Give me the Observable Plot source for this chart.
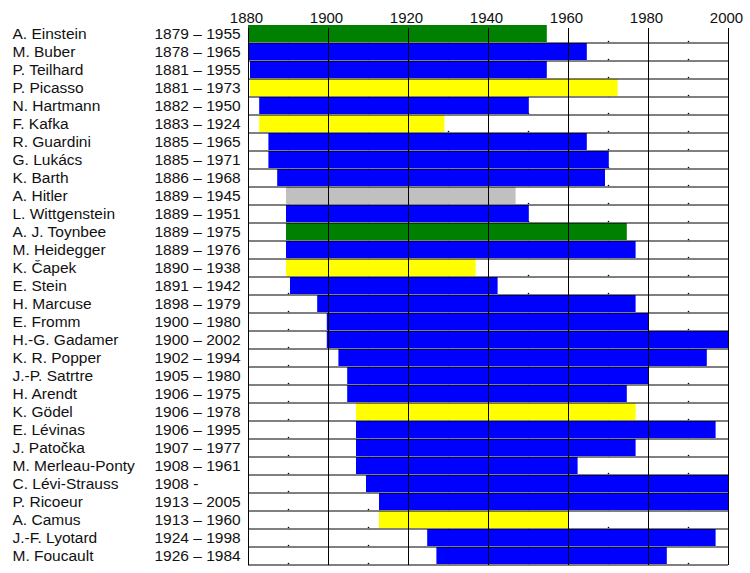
<!DOCTYPE html>
<html><head><meta charset="utf-8">
<script src="https://cdn.jsdelivr.net/npm/d3@7"></script>
<script src="https://cdn.jsdelivr.net/npm/@observablehq/plot@0.6"></script>
<style>body{margin:0;background:#fff}</style>
</head><body><div id="chart"></div>
<script>
const names = ["A. Einstein","M. Buber","P. Teilhard","P. Picasso","N. Hartmann","F. Kafka","R. Guardini","G. Lukács","K. Barth","A. Hitler","L. Wittgenstein","A. J. Toynbee","M. Heidegger","K. Čapek","E. Stein","H. Marcuse","E. Fromm","H.-G. Gadamer","K. R. Popper","J.-P. Satrtre","H. Arendt","K. Gödel","E. Lévinas","J. Patočka","M. Merleau-Ponty","C. Lévi-Strauss","P. Ricoeur","A. Camus","J.-F. Lyotard","M. Foucault"];
const lifespans = ["1879 – 1955","1878 – 1965","1881 – 1955","1881 – 1973","1882 – 1950","1883 – 1924","1885 – 1965","1885 – 1971","1886 – 1968","1889 – 1945","1889 – 1951","1889 – 1975","1889 – 1976","1890 – 1938","1891 – 1942","1898 – 1979","1900 – 1980","1900 – 2002","1902 – 1994","1905 – 1980","1906 – 1975","1906 – 1978","1906 – 1995","1907 – 1977","1908 – 1961","1908 -","1913 – 2005","1913 – 1960","1924 – 1998","1926 – 1984"];
// bar extents as drawn in the picture
const barStart = [1880,1880,1880.5,1880.5,1882.8,1882.8,1885.1,1885.1,1887.3,1889.5,1889.5,1889.5,1889.5,1889.5,1890.5,1897.3,1899.7,1899.7,1902.6,1904.8,1904.8,1907,1907,1907,1907,1909.5,1912.75,1912.75,1924.8,1927.1];
const barEnd = [1954.7,1964.7,1954.7,1972.4,1950.2,1929.1,1964.7,1970.2,1969.25,1946.9,1950.2,1974.7,1976.9,1936.9,1942.4,1976.9,1980.1,2000,1994.7,1980.1,1974.7,1976.9,1996.9,1976.9,1962.4,2000,2000,1960,1996.9,1984.7];
const groups = ["science","philosophy","philosophy","art","philosophy","art","philosophy","philosophy","philosophy","politics","philosophy","science","philosophy","art","philosophy","philosophy","philosophy","philosophy","philosophy","philosophy","philosophy","art","philosophy","philosophy","philosophy","philosophy","philosophy","art","philosophy","philosophy"];
const groupNames = ["science","philosophy","art","politics"];
const groupColors = ["#008000","#0000ff","#ffff00","#c0c0c0"];
const yearTicks = [1880,1900,1920,1940,1960,1980,2000];
const minorTicks = [1890,1910,1930,1950,1970,1990];

const rows = names.map((name, i) => ({name, span: lifespans[i], start: barStart[i], end: barEnd[i], group: groups[i]}));
const dots = rows.flatMap(r => minorTicks.map(x => ({name: r.name, x})));

const chart = Plot.plot({
  width: 750, height: 573,
  marginTop: 25, marginBottom: 8, marginLeft: 248, marginRight: 22,
  style: {fontFamily: "'Liberation Sans', Arial, sans-serif", fontSize: "15.5px", color: "#111", background: "#fff"},
  x: {domain: [1880, 2000], axis: null},
  y: {domain: names, padding: 0, axis: null},
  color: {domain: groupNames, range: groupColors},
  marks: [
    Plot.dot(dots, {x: "x", y: "name", r: 0.8, fill: "#000", stroke: null, dy: 7}),
    Plot.barX(rows, {x1: "start", x2: "end", y: "name", fill: "group", insetBottom: 1}),
    Plot.ruleY(rows, {y: "name", dy: 8.5, stroke: "#000", strokeWidth: 1}),
    Plot.ruleX(yearTicks, {stroke: "#000", strokeWidth: 1, insetTop: 3}),
    Plot.text(rows, {y: "name", text: "name", frameAnchor: "left", textAnchor: "start", dx: -236, fill: "#111"}),
    Plot.text(rows, {y: "name", text: "span", frameAnchor: "left", textAnchor: "start", dx: -94, fill: "#111"}),
    Plot.axisX(yearTicks, {anchor: "top", tickSize: 0, tickPadding: 3, tickFormat: d => String(d), fontSize: 15, label: null, dx: -2})
  ]
});
document.getElementById("chart").append(chart);
</script>
</body></html>
